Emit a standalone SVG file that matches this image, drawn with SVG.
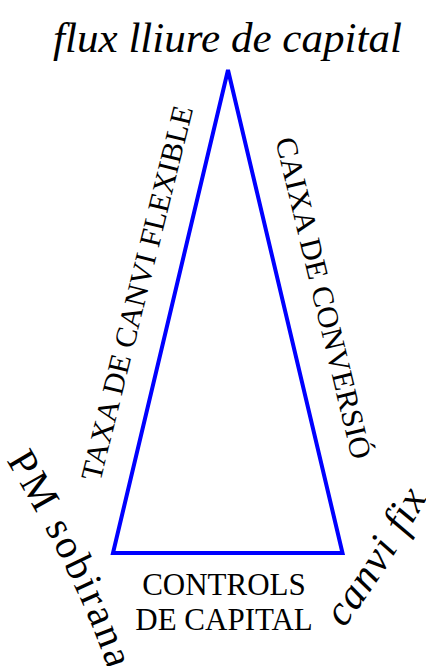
<svg xmlns="http://www.w3.org/2000/svg" width="426" height="666" viewBox="0 0 426 666">
  <defs>
    <style>
      text { font-family: 'Liberation Serif', 'DejaVu Serif', serif; fill: #000000; }
      .it { font-style: italic; }
      .edge { fill: none; stroke: #0000ff; stroke-width: 4; }
    </style>
    <path id="pmPath" d="M 6,460 Q 81,585 108,670"/>
    <path id="fixPath" d="M 344,628 Q 388,570 428,496"/>
  </defs>
  <rect width="426" height="666" fill="#ffffff"/>
  <g id="connectors">
    <polygon class="edge" points="228,70 113,553 342.5,553"/>
  </g>
  <g id="node-flux">
    <text class="it" font-family="Liberation Serif, DejaVu Serif, serif" x="53" y="52" font-size="42" textLength="349" lengthAdjust="spacingAndGlyphs">flux lliure de capital</text>
  </g>
  <g id="node-pm">
    <text font-family="Liberation Serif, DejaVu Serif, serif" font-size="41" letter-spacing="2.5"><textPath href="#pmPath">PM sobirana</textPath></text>
  </g>
  <g id="node-fix">
    <text class="it" font-family="Liberation Serif, DejaVu Serif, serif" font-size="42" letter-spacing="1.5"><textPath href="#fixPath">canvi fix</textPath></text>
  </g>
  <g id="label-taxa">
    <text font-family="Liberation Serif, DejaVu Serif, serif" font-size="30" text-anchor="middle" x="0" y="10" textLength="385" lengthAdjust="spacingAndGlyphs" transform="translate(137,293) rotate(-76)">TAXA DE CANVI FLEXIBLE</text>
  </g>
  <g id="label-caixa">
    <text font-family="Liberation Serif, DejaVu Serif, serif" font-size="30" text-anchor="middle" x="0" y="10" textLength="330" lengthAdjust="spacingAndGlyphs" transform="translate(323.5,298) rotate(76.5)">CAIXA DE CONVERSIÓ</text>
  </g>
  <g id="label-controls">
    <text font-family="Liberation Serif, DejaVu Serif, serif" font-size="31" text-anchor="middle" x="224" y="595">CONTROLS</text>
    <text font-family="Liberation Serif, DejaVu Serif, serif" font-size="31" text-anchor="middle" x="224" y="630">DE CAPITAL</text>
  </g>
</svg>
